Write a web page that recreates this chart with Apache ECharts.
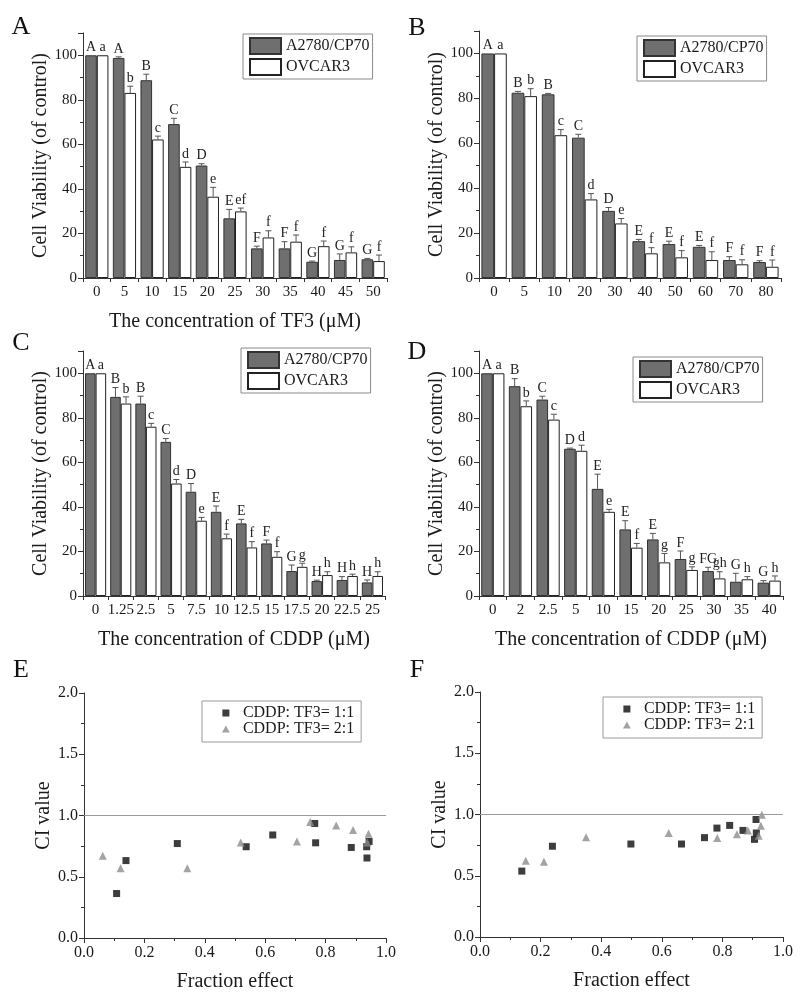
<!DOCTYPE html>
<html><head><meta charset="utf-8">
<script src="https://cdn.jsdelivr.net/npm/echarts@6/dist/echarts.min.js"></script>
<style>html,body{margin:0;padding:0;background:#fff}#c{width:800px;height:1006px}</style>
</head><body><div id="c"></div>
<script>
// ---- data ----
const catsA = ['0','5','10','15','20','25','30','35','40','45','50'];
const cp70A = [100, 98.8, 88.8, 69.1, 50.5, 26.8, 13.3, 13.3, 7.3, 8.1, 8.4];
const cp70ErrA = [0, 0.5, 2.7, 2.6, 0.8, 4.0, 1.0, 3.0, 0.3, 2.7, 0.4];
const ovcA = [100, 83.1, 62.2, 49.9, 36.5, 29.9, 18.2, 16.3, 14.3, 11.5, 7.6];
const ovcErrA = [0, 3.0, 1.5, 2.2, 4.2, 1.5, 3.0, 3.0, 2.3, 2.5, 2.7];
const cp70LetA = ['A','A','B','C','D','E','F','F','G','G','G'];
const ovcLetA = ['a','b','c','d','e','ef','f','f','f','f','f'];

const catsB = ['0','5','10','20','30','40','50','60','70','80'];
const cp70B = [100, 82.5, 81.8, 62.5, 29.9, 16.4, 15.1, 13.9, 8.0, 7.1];
const cp70ErrB = [0, 0.6, 0.4, 1.5, 1.5, 0.8, 1.3, 0.6, 1.5, 0.6];
const ovcB = [100, 81.0, 63.6, 35.0, 24.3, 11.0, 9.2, 8.0, 6.1, 5.0];
const ovcErrB = [0, 3.3, 2.5, 2.6, 2.2, 2.5, 3.0, 3.7, 2.0, 3.0];
const cp70LetB = ['A','B','B','C','D','E','E','E','F','F'];
const ovcLetB = ['a','b','c','d','e','f','f','f','f','f'];

const catsC = ['0','1.25','2.5','5','7.5','10','12.5','15','17.5','20','22.5','25'];
const cp70C = [100, 89.4, 86.4, 69.2, 46.8, 37.8, 32.6, 23.6, 11.2, 6.7, 7.2, 6.1];
const cp70ErrC = [0, 4.2, 3.3, 1.5, 3.7, 2.6, 1.8, 1.5, 2.7, 0.4, 1.5, 1.1];
const ovcC = [100, 86.4, 76.0, 50.5, 33.8, 25.9, 21.8, 17.6, 13.1, 9.4, 9.0, 9.0];
const ovcErrC = [0, 3.0, 1.5, 1.8, 1.5, 1.9, 2.6, 2.3, 1.6, 1.5, 0.8, 1.9];
const cp70LetC = ['A','B','B','C','D','E','E','F','G','H','H','H'];
const ovcLetC = ['a','b','c','d','e','f','f','f','g','h','h','h'];

const catsD = ['0','2','2.5','5','10','15','20','25','30','35','40'];
const cp70D = [100, 94.2, 88.2, 66.1, 48.1, 29.9, 25.4, 16.6, 11.2, 6.4, 6.0];
const cp70ErrD = [0, 3.4, 1.5, 0.3, 6.6, 3.9, 2.7, 3.6, 1.7, 3.8, 0.9];
const ovcD = [100, 85.2, 79.2, 65.2, 37.8, 21.7, 15.1, 11.7, 7.9, 7.5, 6.9];
const ovcErrD = [0, 2.4, 2.4, 2.5, 1.1, 1.9, 4.0, 1.4, 3.0, 1.2, 2.1];
const cp70LetD = ['A','B','C','D','E','E','E','F','FG','G','G'];
const ovcLetD = ['a','b','c','d','e','f','g','g','gh','h','h'];

const ratio11E = [[0.108,0.363],[0.139,0.632],[0.309,0.771],[0.537,0.745],[0.625,0.841],[0.764,0.935],[0.767,0.777],[0.885,0.739],[0.936,0.745],[0.937,0.653],[0.944,0.788]];
const ratio21E = [[0.062,0.672],[0.121,0.570],[0.342,0.570],[0.519,0.780],[0.705,0.788],[0.749,0.946],[0.835,0.919],[0.891,0.882],[0.942,0.852],[0.938,0.780]];
const ratio11F = [[0.138,0.538],[0.239,0.741],[0.498,0.759],[0.665,0.759],[0.741,0.811],[0.782,0.889],[0.824,0.911],[0.868,0.870],[0.906,0.797],[0.912,0.849],[0.911,0.959]];
const ratio21F = [[0.151,0.622],[0.211,0.614],[0.350,0.814],[0.623,0.849],[0.783,0.808],[0.848,0.838],[0.884,0.870],[0.920,0.827],[0.927,0.908],[0.930,0.997]];

const S1 = 'A2780/CP70', S2 = 'OVCAR3';
const R1 = 'CDDP: TF3= 1:1', R2 = 'CDDP: TF3= 2:1';
const YT = 'Cell Viability (of control)';
const XT_TF3 = 'The concentration of TF3 (\u03bcM)';
const XT_CDDP = 'The concentration of CDDP (\u03bcM)';

// ---- styling ----
const FF = '"Liberation Serif", "DejaVu Serif", serif';
const AX = '#333';
const TXT = '#1a1a1a';

function barX(idx, cats, title) {
  return {gridIndex: idx, type: 'category', data: cats,
    axisLine: {lineStyle: {color: AX, width: 1}},
    axisTick: {show: true, length: 4, lineStyle: {color: AX}},
    axisLabel: {interval: 0, fontFamily: FF, fontSize: 15, color: TXT, margin: 7},
    name: title || '', nameLocation: 'middle', nameGap: 34,
    nameTextStyle: {fontFamily: FF, fontSize: 20, color: TXT}};
}
function barY(idx) {
  return {gridIndex: idx, type: 'value', min: 0, max: 110, interval: 20,
    axisLine: {show: true, lineStyle: {color: AX, width: 1}},
    axisTick: {show: true, length: 5, lineStyle: {color: AX}},
    minorTick: {show: true, splitNumber: 2, length: 3, lineStyle: {color: AX}},
    splitLine: {show: false},
    axisLabel: {fontFamily: FF, fontSize: 15, color: TXT, margin: 6,
      formatter: v => (v > 100 ? '' : String(v))},
    name: YT, nameLocation: 'middle', nameGap: 30, nameRotate: 90,
    nameTextStyle: {fontFamily: FF, fontSize: 20, color: TXT}};
}
function barSeries(idx, name, vals, dark) {
  return {type: 'bar', name: name, xAxisIndex: idx, yAxisIndex: idx, data: vals,
    barGap: '0%', barCategoryGap: '16%',
    itemStyle: dark ? {color: '#6f6f6f', borderColor: '#333', borderWidth: 1}
                    : {color: '#ffffff', borderColor: '#222', borderWidth: 1}};
}
function errSeries(idx, vals, errs, letters, side) {
  return {type: 'custom', xAxisIndex: idx, yAxisIndex: idx, silent: true, z: 10,
    data: vals.map((v, i) => [i, v, errs[i]]),
    encode: {x: 0, y: 1},
    renderItem: function (params, api) {
      const i = api.value(0), v = api.value(1), e = api.value(2);
      const band = api.size([1, 0])[0];
      const off = side * band * 0.21;
      const p0 = api.coord([i, v]);
      const p1 = api.coord([i, v + e]);
      const x = p0[0] + off;
      const ch = [];
      if (e > 0.2) {
        ch.push({type: 'line', shape: {x1: x, y1: p0[1], x2: x, y2: p1[1]}, style: {stroke: '#555', lineWidth: 1}});
        ch.push({type: 'line', shape: {x1: x - 3, y1: p1[1], x2: x + 3, y2: p1[1]}, style: {stroke: '#555', lineWidth: 1}});
      }
      ch.push({type: 'text', style: {text: letters[params.dataIndex], x: x, y: p1[1] - 1,
        textAlign: 'center', textVerticalAlign: 'bottom', font: '14px ' + FF, fill: '#222'}});
      return {type: 'group', children: ch};
    }};
}
function scX(idx) {
  return {gridIndex: idx, type: 'value', min: 0, max: 1, interval: 0.2,
    axisLine: {show: true, lineStyle: {color: AX}},
    axisTick: {show: true, length: 5, lineStyle: {color: AX}},
    minorTick: {show: true, splitNumber: 2, length: 3, lineStyle: {color: AX}},
    splitLine: {show: false},
    axisLabel: {fontFamily: FF, fontSize: 16, color: TXT, margin: 7, formatter: v => v.toFixed(1)},
    name: 'Fraction effect', nameLocation: 'middle', nameGap: 34,
    nameTextStyle: {fontFamily: FF, fontSize: 20, color: TXT}};
}
function scY(idx) {
  return {gridIndex: idx, type: 'value', min: 0, max: 2, interval: 0.5,
    axisLine: {show: true, lineStyle: {color: AX}},
    axisTick: {show: true, length: 5, lineStyle: {color: AX}},
    minorTick: {show: true, splitNumber: 2, length: 3, lineStyle: {color: AX}},
    splitLine: {show: false},
    axisLabel: {fontFamily: FF, fontSize: 16, color: TXT, margin: 6, formatter: v => v.toFixed(1)},
    name: 'CI value', nameLocation: 'middle', nameGap: 30, nameRotate: 90,
    nameTextStyle: {fontFamily: FF, fontSize: 20, color: TXT}};
}
function scSeries(idx, name, data, sq, withLine) {
  const s = {type: 'scatter', name: name, xAxisIndex: idx, yAxisIndex: idx, data: data,
    symbol: sq ? 'rect' : 'triangle', symbolSize: sq ? 7 : 8,
    itemStyle: {color: sq ? '#0d0d0d' : '#8c8c8c'}};
  if (withLine) {
    s.markLine = {silent: true, symbol: 'none', label: {show: false},
      lineStyle: {color: '#9a9a9a', type: 'solid', width: 1}, data: [{yAxis: 1}]};
  }
  return s;
}
function barLegend(left, top) {
  return {data: [{name: S1, icon: 'rect'}, {name: S2, icon: 'rect'}], left: left, top: top, orient: 'vertical', selectedMode: false,
    itemWidth: 31, itemHeight: 16, itemGap: 3, padding: [3, 3, 3, 6],
    borderColor: '#8a8a8a', borderWidth: 1,
    textStyle: {fontFamily: FF, fontSize: 16, color: TXT}};
}
function scLegend(left, top) {
  return {data: [{name: R1, icon: 'path://M0,0L10,0L10,10L0,10Z'}, {name: R2, icon: 'path://M5,0L10,9L0,9Z'}],
    left: left, top: top, orient: 'vertical', selectedMode: false,
    itemWidth: 24, itemHeight: 7, itemGap: 0, padding: [4, 7, 5, 20],
    borderColor: '#9a9a9a', borderWidth: 1,
    textStyle: {fontFamily: FF, fontSize: 16, color: TXT, lineHeight: 15}};
}
function letter(t, x, y) {
  return {type: 'text', style: {text: t, x: x, y: y, font: '26px ' + FF, fill: '#111',
    textAlign: 'center', textVerticalAlign: 'middle'}};
}

const option = {
  animation: false,
  backgroundColor: '#fff',
  grid: [
    {left: 83, top: 33, width: 304, height: 245},
    {left: 479, top: 31, width: 302, height: 247},
    {left: 83, top: 351, width: 302, height: 245},
    {left: 479, top: 351, width: 304, height: 245},
    {left: 84, top: 693, width: 302, height: 245},
    {left: 480, top: 692, width: 303, height: 245}
  ],
  xAxis: [barX(0, catsA, XT_TF3), barX(1, catsB, ''), barX(2, catsC, XT_CDDP), barX(3, catsD, XT_CDDP), scX(4), scX(5)],
  yAxis: [barY(0), barY(1), barY(2), barY(3), scY(4), scY(5)],
  legend: [barLegend(243, 34), barLegend(637, 36), barLegend(241, 348), barLegend(633, 357), scLegend(202, 701), scLegend(603, 697)],
  graphic: [letter('A', 21, 27), letter('B', 417, 28), letter('C', 21, 343), letter('D', 417, 352), letter('E', 21, 670), letter('F', 417, 670)],
  series: [
    barSeries(0, S1, cp70A, true), barSeries(0, S2, ovcA, false),
    errSeries(0, cp70A, cp70ErrA, cp70LetA, -1), errSeries(0, ovcA, ovcErrA, ovcLetA, 1),
    barSeries(1, S1, cp70B, true), barSeries(1, S2, ovcB, false),
    errSeries(1, cp70B, cp70ErrB, cp70LetB, -1), errSeries(1, ovcB, ovcErrB, ovcLetB, 1),
    barSeries(2, S1, cp70C, true), barSeries(2, S2, ovcC, false),
    errSeries(2, cp70C, cp70ErrC, cp70LetC, -1), errSeries(2, ovcC, ovcErrC, ovcLetC, 1),
    barSeries(3, S1, cp70D, true), barSeries(3, S2, ovcD, false),
    errSeries(3, cp70D, cp70ErrD, cp70LetD, -1), errSeries(3, ovcD, ovcErrD, ovcLetD, 1),
    scSeries(4, R1, ratio11E, true, true), scSeries(4, R2, ratio21E, false, false),
    scSeries(5, R1, ratio11F, true, true), scSeries(5, R2, ratio21F, false, false)
  ]
};
const chart = echarts.init(document.getElementById('c'), null, {renderer: 'canvas'});
chart.setOption(option);
</script>
</body></html>
